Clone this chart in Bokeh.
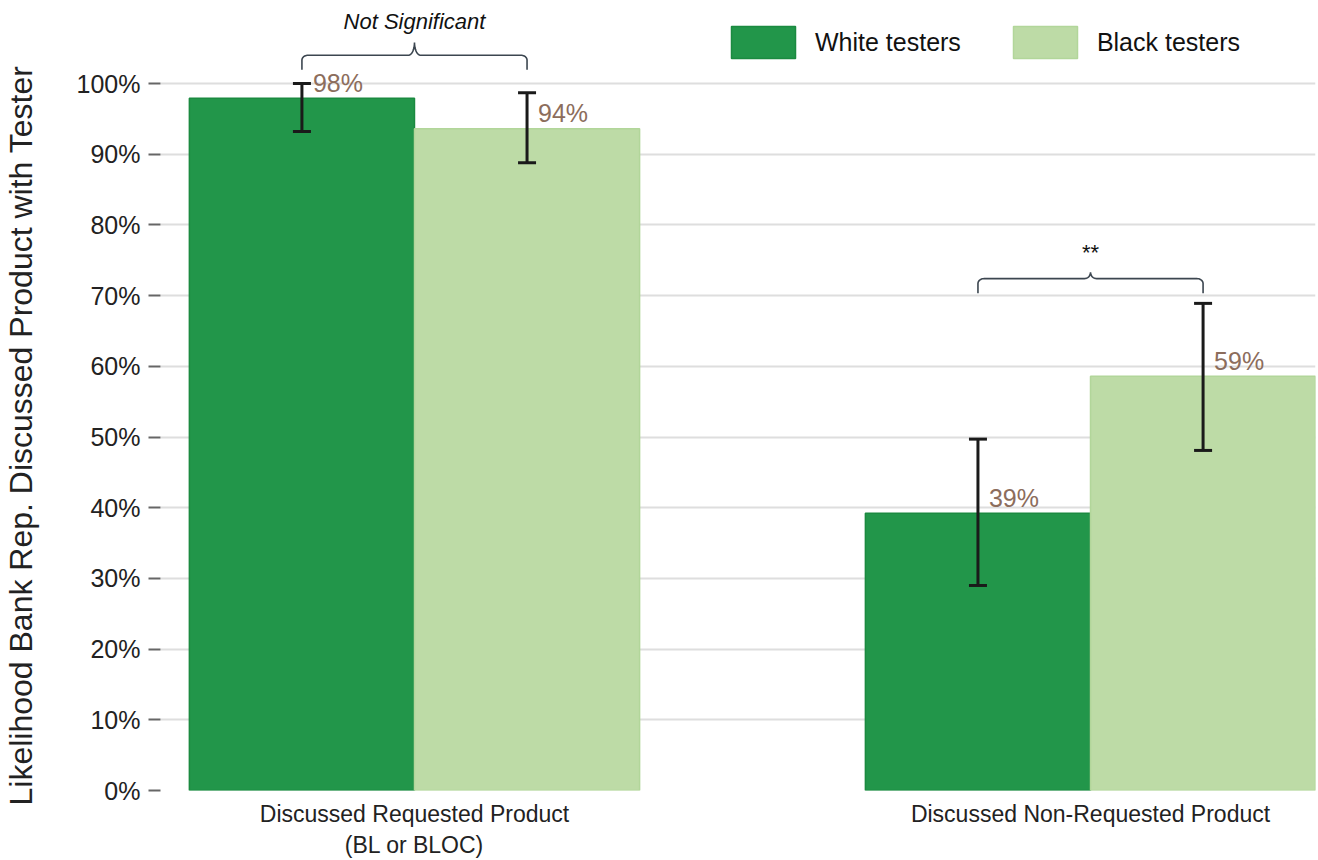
import numpy as np
from bokeh.plotting import figure
from bokeh.layouts import row
from bokeh.models import (ColumnDataSource, Range1d, FixedTicker, PrintfTickFormatter,
                          Whisker, TeeHead, Legend, LegendItem, Title)
from bokeh.core.properties import value
from bokeh.embed import file_html
from bokeh.resources import INLINE

# --- data -------------------------------------------------------------
categories = ["Discussed Requested Product\n(BL or BLOC)", "Discussed Non-Requested Product"]
series_names = ["White testers", "Black testers"]
white_vals = [97.9, 39.2]
black_vals = [93.6, 58.6]
white_lo = [93.2, 29.0]
white_hi = [100.0, 49.7]
black_lo = [88.8, 48.1]
black_hi = [98.7, 68.9]
sig_labels = ["Not Significant", "**"]
sig_styles = ["italic", "normal"]
brace_mid = [104.0, 72.4]     # horizontal stroke of each brace
brace_tip = [105.8, 73.3]     # centre point of each brace
sig_text_y = [108.8, 76.1]
y_ticks = list(range(0, 101, 10))
y_title = "Likelihood Bank Rep. Discussed Product with Tester"

WHITE_FILL, WHITE_LINE = "#22964a", "#1b8a40"
BLACK_FILL, BLACK_LINE = "#bddba6", "#b2d69a"
LABEL_BROWN = "#8c6d5c"
FONT = "Liberation Sans"

W, H = 1318, 860
STRIP_W = 60            # strip that carries the vertical axis title
BOTTOM = 70             # space under the plot frame for category labels
Y_MAX = 111.74

group_x = np.arange(len(categories), dtype=float)
bar_w = 0.333
white_x = group_x - bar_w / 2
black_x = group_x + bar_w / 2

p = figure(width=W - STRIP_W, height=H, output_backend="svg", toolbar_location=None,
           x_range=Range1d(-0.3757, 1.3328), y_range=Range1d(0, Y_MAX),
           min_border_left=160 - STRIP_W, min_border_right=3, min_border_top=0,
           min_border_bottom=BOTTOM)
p.outline_line_color = None
p.background_fill_color = "white"
p.border_fill_color = "white"

# grid
p.xgrid.visible = False
p.ygrid.ticker = FixedTicker(ticks=y_ticks[1:])
p.ygrid.grid_line_color = "#dedede"
p.ygrid.grid_line_width = 2

# y axis
p.yaxis.ticker = FixedTicker(ticks=y_ticks)
p.yaxis.formatter = PrintfTickFormatter(format="%d%%")
p.yaxis.axis_line_color = None
p.yaxis.major_tick_out = 12
p.yaxis.major_tick_in = 0
p.yaxis.minor_tick_line_color = None
p.yaxis.major_tick_line_color = "#666666"
p.yaxis.major_tick_line_width = 2
p.yaxis.major_label_standoff = 8
p.yaxis.major_label_text_font = FONT
p.yaxis.major_label_text_font_size = "25px"
p.yaxis.major_label_text_color = "#222222"

# x axis
p.xaxis.ticker = FixedTicker(ticks=list(group_x))
p.xaxis.major_label_overrides = {float(g): c for g, c in zip(group_x, categories)}
p.xaxis.axis_line_color = None
p.xaxis.major_tick_line_color = None
p.xaxis.minor_tick_line_color = None
p.xaxis.major_tick_out = 0
p.xaxis.major_tick_in = 0
p.xaxis.major_label_standoff = 10
p.xaxis.major_label_text_font = FONT
p.xaxis.major_label_text_font_size = "23px"
p.xaxis.major_label_text_color = "#222222"

# bars
src_w = ColumnDataSource(dict(x=white_x, top=white_vals, lo=white_lo, hi=white_hi,
                              lbl=[f"{round(v)}%" for v in white_vals]))
src_b = ColumnDataSource(dict(x=black_x, top=black_vals, lo=black_lo, hi=black_hi,
                              lbl=[f"{round(v)}%" for v in black_vals]))
r_w = p.vbar(x="x", top="top", bottom=0, width=bar_w, source=src_w,
             fill_color=WHITE_FILL, line_color=WHITE_LINE, line_width=1.5)
r_b = p.vbar(x="x", top="top", bottom=0, width=bar_w, source=src_b,
             fill_color=BLACK_FILL, line_color=BLACK_LINE, line_width=1.5)

# error bars
for src in (src_w, src_b):
    wh = Whisker(base="x", lower="lo", upper="hi", source=src, dimension="height",
                 line_color="#1a1a1a", line_width=3, level="overlay",
                 upper_head=TeeHead(size=18, line_color="#1a1a1a", line_width=3),
                 lower_head=TeeHead(size=18, line_color="#1a1a1a", line_width=3))
    p.add_layout(wh)

# value labels
for src in (src_w, src_b):
    p.text(x="x", y="top", text="lbl", source=src, x_offset=11, y_offset=-15.5,
           text_font=value(FONT), text_font_size="25px", text_color=LABEL_BROWN,
           text_align="left", text_baseline="alphabetic")


# significance braces
def brace_path(x0, x1, y_mid, y_tip, drop, rx, ry):
    xm = (x0 + x1) / 2
    ry2 = y_tip - y_mid
    xs, ys = [x0], [y_mid - drop]
    t = np.linspace(np.pi, np.pi / 2, 12)
    xs += list(x0 + rx + rx * np.cos(t)); ys += list(y_mid - ry + ry * np.sin(t))
    t = np.linspace(-np.pi / 2, 0, 12)
    xs += list(xm - rx + rx * np.cos(t)); ys += list(y_tip + ry2 * np.sin(t))
    t = np.linspace(np.pi, 1.5 * np.pi, 12)
    xs += list(xm + rx + rx * np.cos(t)); ys += list(y_tip + ry2 * np.sin(t))
    t = np.linspace(np.pi / 2, 0, 12)
    xs += list(x1 - rx + rx * np.cos(t)); ys += list(y_mid - ry + ry * np.sin(t))
    xs.append(x1); ys.append(y_mid - drop)
    return xs, ys


for i in range(len(categories)):
    bx, by = brace_path(white_x[i], black_x[i], brace_mid[i], brace_tip[i],
                        drop=2.05, rx=0.009, ry=0.7)
    p.line(bx, by, line_color="#3c4650", line_width=1.6)
    p.text(x=[group_x[i]], y=[sig_text_y[i]], text=[sig_labels[i]],
           text_font=value(FONT), text_font_size="22px", text_color="#111111",
           text_font_style=sig_styles[i], text_align="center", text_baseline="middle")

# legend
legend = Legend(items=[LegendItem(label=series_names[0], renderers=[r_w]),
                       LegendItem(label=series_names[1], renderers=[r_b])],
                orientation="horizontal", location=(563, 728),
                glyph_width=80, glyph_height=40, label_standoff=12, spacing=44,
                padding=0, margin=0, border_line_color=None,
                background_fill_alpha=0,
                label_text_font=FONT, label_text_font_size="25px",
                label_text_color="#111111")
p.add_layout(legend)

# strip on the left holding the vertical axis title, which starts a little
# below the frame so that it is centred on the 0-100% span
strip = figure(width=STRIP_W, height=H, output_backend="svg", toolbar_location=None,
               x_range=Range1d(0, 1), y_range=p.y_range,
               x_axis_type=None, y_axis_type=None,
               min_border_left=0, min_border_right=0, min_border_top=0,
               min_border_bottom=BOTTOM)
strip.outline_line_color = None
strip.grid.visible = False
strip.add_layout(Title(text=y_title, align="left", offset=-15, standoff=0,
                       text_font=FONT, text_font_size="32px", text_font_style="normal",
                       text_color="#222222"), "left")

layout = row(strip, p)
open("out.html", "w").write(file_html(layout, INLINE))
